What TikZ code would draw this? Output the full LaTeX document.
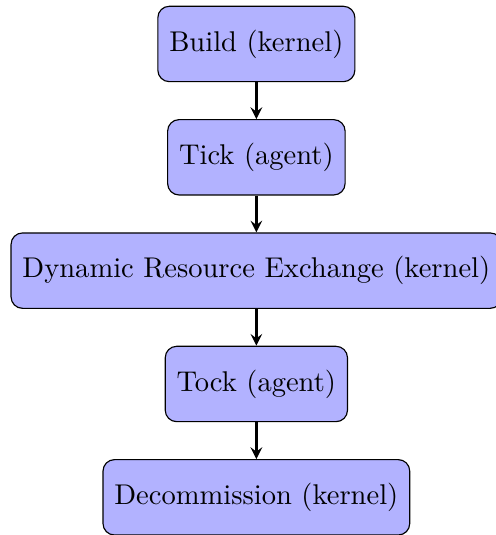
\documentclass[tikz,border=0pt]{standalone}
\usetikzlibrary{arrows}
\begin{document}
\begin{tikzpicture}[
  stage/.style={draw, fill=blue!30, rounded corners, minimum height=26.4pt, inner xsep=4pt},
  flow/.style={->, >=stealth, thick}
]
\useasboundingbox (-89.8pt,15.4pt) rectangle (83.9pt,-172pt);
\node[stage] (build) at (0,0) {Build (kernel)};
\node[stage] (tick) at (0,-39.7pt) {Tick (agent)};
\node[stage] (dre) at (0,-79.4pt) {Dynamic Resource Exchange (kernel)};
\node[stage] (tock) at (0,-119.1pt) {Tock (agent)};
\node[stage] (decom) at (0,-158.8pt) {Decommission (kernel)};
\draw[flow] (build) -- (tick);
\draw[flow] (tick) -- (dre);
\draw[flow] (dre) -- (tock);
\draw[flow] (tock) -- (decom);
\end{tikzpicture}
\end{document}
